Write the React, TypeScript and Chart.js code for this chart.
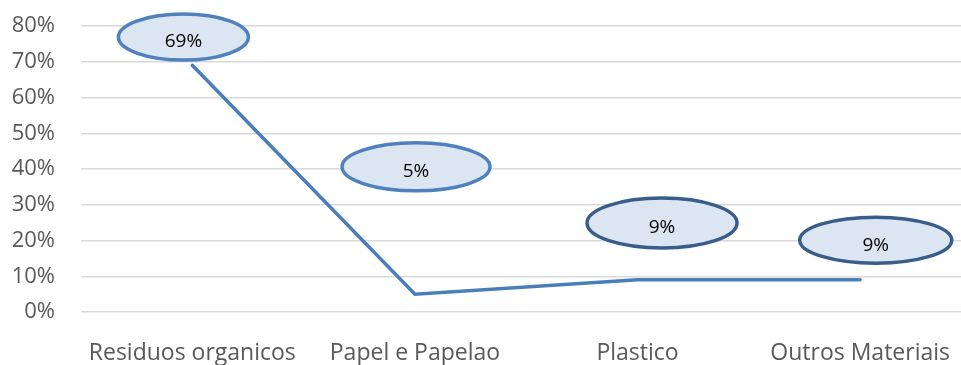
import React, { useEffect, useRef } from "react";
import { Chart, registerables } from "chart.js";

Chart.register(...registerables);

const categories = ["Residuos organicos", "Papel e Papelao", "Plastico", "Outros Materiais"];
const values = [69, 5, 9, 9];
const labelTexts = ["69%", "5%", "9%", "9%"];
const yTicks = [0, 10, 20, 30, 40, 50, 60, 70, 80];

// label callout placement in data units (category offset, y value)
const labelDx = [-0.04, 0.005, 0.11, 0.07];
const labelY = [76.9, 40.6, 24.9, 20.1];

const ellipsePlugin = {
  id: "ellipseLabels",
  afterDatasetsDraw(chart: any) {
    const { ctx, scales } = chart;
    const x = scales.x;
    const y = scales.y;
    const rx = [65, 74, 75, 76];
    const ry = [23, 24, 25, 23];
    const borders = ["#4F81BD", "#4F81BD", "#385D8A", "#385D8A"];
    ctx.save();
    for (let i = 0; i < values.length; i++) {
      const cx = x.getPixelForValue(i) + labelDx[i] * (x.getPixelForValue(1) - x.getPixelForValue(0));
      const cy = y.getPixelForValue(labelY[i]);
      ctx.beginPath();
      ctx.ellipse(cx, cy, rx[i], ry[i], 0, 0, Math.PI * 2);
      ctx.fillStyle = "#DCE6F2";
      ctx.fill();
      ctx.lineWidth = 3.5;
      ctx.strokeStyle = borders[i];
      ctx.stroke();
      ctx.fillStyle = "#000000";
      ctx.font = "19px 'Open Sans'";
      ctx.textAlign = "center";
      ctx.textBaseline = "middle";
      ctx.fillText(labelTexts[i], cx, cy + 5);
    }
    ctx.restore();
  },
};

export default function App() {
  const ref = useRef<HTMLCanvasElement | null>(null);
  useEffect(() => {
    if (!ref.current) return;
    const chart = new Chart(ref.current, {
      type: "line",
      data: {
        labels: categories,
        datasets: [
          {
            data: values,
            borderColor: "#4A7EBB",
            borderWidth: 3.5,
            borderCapStyle: "round",
            pointRadius: 0,
            tension: 0,
            fill: false,
          },
        ],
      },
      options: {
        animation: false,
        responsive: false,
        maintainAspectRatio: false,
        layout: { padding: { top: 26, right: 0, left: 0, bottom: 0 } },
        plugins: { legend: { display: false }, tooltip: { enabled: false } },
        scales: {
          x: {
            offset: true,
            grid: { display: false, drawTicks: false },
            border: { display: false },
            ticks: {
              color: "#595959",
              font: { family: "'Open Sans'", size: 23 },
              padding: 28,
              maxRotation: 0,
              autoSkip: false,
            },
            afterFit: (s: any) => {
              s.height = 53;
            },
          },
          y: {
            min: 0,
            max: 80,
            afterBuildTicks: (s: any) => {
              s.ticks = yTicks.map((v) => ({ value: v }));
            },
            grid: { color: "#D9D9D9", lineWidth: 1.5, drawTicks: false },
            border: { display: false },
            ticks: {
              color: "#595959",
              font: { family: "'Open Sans'", size: 22 },
              padding: 26,
              callback: (v: any) => v + "%",
            },
            afterFit: (s: any) => {
              s.width = 81;
              s.paddingTop = 0;
            },
          },
        },
      },
      plugins: [ellipsePlugin],
    });
    return () => chart.destroy();
  }, []);
  return (
    <div style={{ position: "fixed", left: 0, top: 0, width: 961, height: 365, overflow: "hidden", background: "#fff" }}>
      <canvas ref={ref} width={978} height={365} style={{ display: "block" }} />
    </div>
  );
}
